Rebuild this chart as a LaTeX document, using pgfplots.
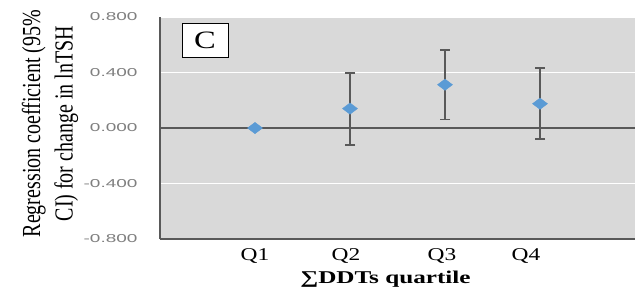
\documentclass[border=0pt]{standalone}
\usepackage{fontspec}
\setmainfont{Liberation Serif}
\newfontfamily\tickfont[FakeStretch=1.65]{Liberation Sans}
\newfontfamily\serifwide[FakeStretch=1.3]{Liberation Serif}
\newfontfamily\serifwider[FakeStretch=1.4]{Liberation Serif}
\usepackage{pgfplots}
\pgfplotsset{compat=1.18}
\definecolor{plotbg}{HTML}{D9D9D9}
\definecolor{axgray}{HTML}{595959}
\definecolor{tickgray}{HTML}{7F7F7F}
\definecolor{ptblue}{HTML}{5B9BD5}
\begin{document}
\begin{tikzpicture}
\begin{axis}[
  scale only axis,
  width=475pt, height=222pt,
  xmin=0, xmax=5, ymin=-0.8, ymax=0.8,
  axis background/.style={fill=plotbg},
  axis lines*=left,
  axis line style={draw=axgray, line width=1.4pt, -},
  major tick length=0pt,
  ytick={-0.8,-0.4,0,0.4,0.8},
  ymajorgrids,
  grid style={white, line width=1.2pt},
  xtick={1.0,1.958,2.968,3.853},
  xticklabels={Q1,Q2,Q3,Q4},
  /pgf/number format/assume math mode=true,
  yticklabel={\pgfmathprintnumber[fixed,fixed zerofill,precision=3]{\tick}},
  yticklabel style={font=\tickfont\fontsize{11.5}{13}\selectfont, text=tickgray, xshift=-19pt},
  xticklabel style={font=\serifwide\fontsize{18}{20}\selectfont, text=black, yshift=-6pt},
  xlabel={\textbf{∑DDTs quartile}},
  every axis x label/.style={at={(axis description cs:0.5,0)}, anchor=center, yshift=-40pt, xshift=-12pt, font=\serifwider\fontsize{18}{20}\selectfont},
  ylabel={Regression coefficient (95\%\\CI) for change in lnTSH},
  every axis y label/.style={at={(axis description cs:-0.2316,0.52)}, anchor=center, rotate=90, yscale=1.3, align=center, font=\fontsize{20}{25}\selectfont},
  clip=false,
]
\addplot[axgray, line width=1.3pt, no marks] coordinates {(0,0) (5,0)};
\addplot[
  only marks, mark=diamond*, mark size=7.5pt,
  mark options={rotate=90, fill=ptblue, draw=ptblue},
  error bars/.cd, y dir=both, y explicit,
  error bar style={axgray, line width=1.5pt},
  error mark options={rotate=90, mark size=5pt, axgray, line width=1.5pt},
] table[x=x, y=y, y error plus=ep, y error minus=em] {
x y ep em
1 0 0 0
2 0.140 0.256 0.263
3 0.312 0.250 0.252
4 0.175 0.257 0.254
};
\node[draw=black, fill=white, line width=0.9pt, minimum width=46pt, minimum height=34pt, inner sep=0pt,
  font=\serifwide\fontsize{25}{27}\selectfont] at (rel axis cs:0.0947,0.896) {C};
\coordinate (bl) at (rel axis cs:0,0);
\coordinate (tr) at (rel axis cs:1,1);
\end{axis}
\pgfresetboundingbox
\path ([shift={(-160pt,-53pt)}]bl) rectangle ([shift={(1pt,17pt)}]tr);
\end{tikzpicture}
\end{document}
